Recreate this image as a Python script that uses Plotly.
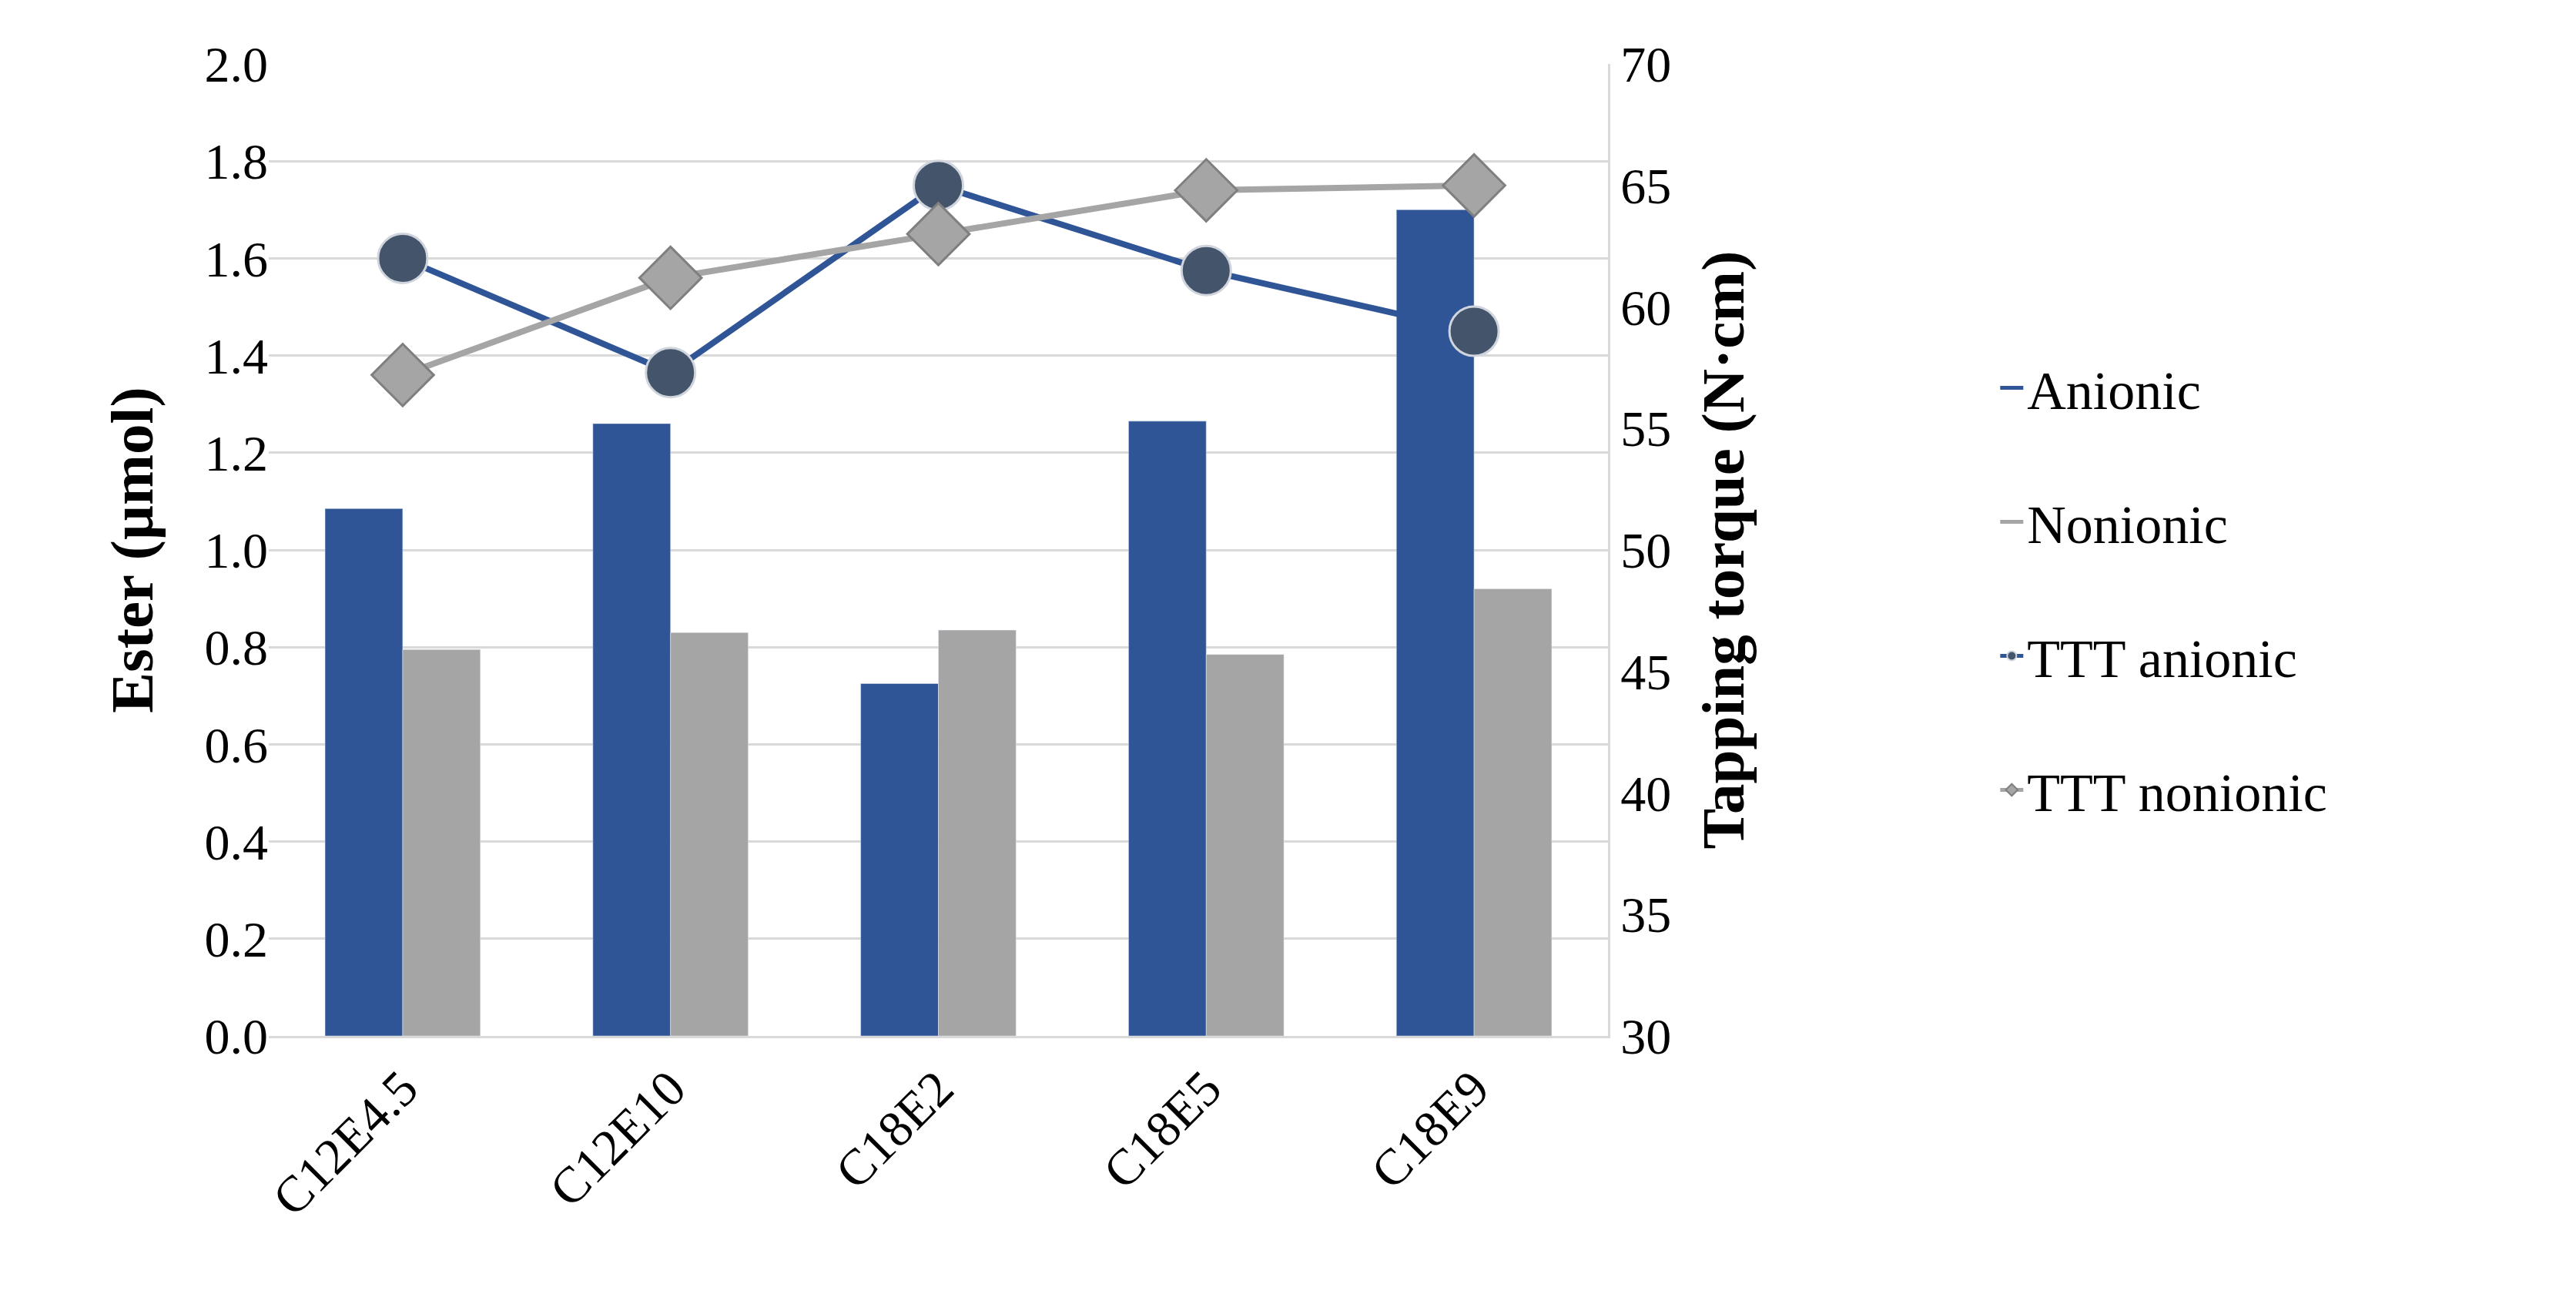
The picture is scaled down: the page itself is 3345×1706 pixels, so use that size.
import plotly.graph_objects as go

categories = ["C12E4.5", "C12E10", "C18E2", "C18E5", "C18E9"]
anionic = [1.085, 1.26, 0.725, 1.265, 1.70]
nonionic = [0.795, 0.83, 0.835, 0.785, 0.92]
ttt_anionic = [62.0, 57.3, 65.0, 61.5, 59.0]
ttt_nonionic = [57.2, 61.2, 63.0, 64.8, 65.0]

FONT = "Liberation Serif"
BLUE = "#2F5597"
GRAY = "#A5A5A5"
fig = go.Figure()
fig.add_bar(x=categories, y=anionic, name="Anionic", marker_color=BLUE, showlegend=False)
fig.add_bar(x=categories, y=nonionic, name="Nonionic", marker_color=GRAY, showlegend=False)
# legend proxies for bars (larger swatches)
fig.add_scatter(x=[None], y=[None], name="Anionic", mode="lines", line=dict(color=BLUE, width=44), legendgroup="a")
fig.add_scatter(x=[None], y=[None], name="Nonionic", mode="lines", line=dict(color=GRAY, width=44), legendgroup="b")
fig.add_scatter(x=categories, y=ttt_anionic, name="TTT anionic", yaxis="y2", mode="lines+markers",
                line=dict(color=BLUE, width=8), legendgroup="c",
                marker=dict(symbol="circle", size=64, color="#44546A", line=dict(color="#D0D5DD", width=3)))
fig.add_scatter(x=categories, y=ttt_nonionic, name="TTT nonionic", yaxis="y2", mode="lines+markers",
                line=dict(color=GRAY, width=8), legendgroup="d",
                marker=dict(symbol="diamond", size=62, color=GRAY, line=dict(color="#7F7F7F", width=3)))

fig.update_layout(
    width=3345, height=1706, paper_bgcolor="white", plot_bgcolor="white",
    font=dict(family=FONT, size=66, color="black"),
    margin=dict(l=341, r=1265, t=75, b=369),
    barmode="group", bargap=0.42, bargroupgap=0,
    xaxis=dict(tickangle=-45, showline=True, linecolor="#D9D9D9", linewidth=3, ticks=""),
    yaxis=dict(title=dict(text="<b>Ester (µmol)</b>", standoff=40), range=[0, 2.0], dtick=0.2,
               tickformat=".1f", showgrid=True, gridcolor="#D9D9D9", gridwidth=3, zeroline=False),
    yaxis2=dict(title=dict(text="<b>Tapping torque (N·cm)</b>", standoff=40), overlaying="y",
                side="right", range=[30, 70], dtick=5, showgrid=False, showline=True,
                linecolor="#D9D9D9", linewidth=3, zeroline=False),
    legend=dict(x=1.29, y=0.46, yanchor="middle", xanchor="left", tracegroupgap=80,
                font=dict(size=70), itemsizing="constant"),
)
fig.write_html("out.html")
